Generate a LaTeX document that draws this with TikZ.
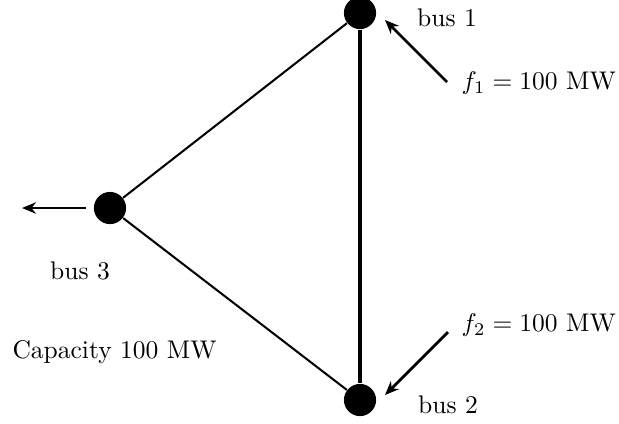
\documentclass[tikz,border=0pt]{standalone}
\usepackage{amsmath,amssymb}
\usetikzlibrary{arrows.meta}

\begin{document}
\begin{tikzpicture}[x=0.392pt, y=-0.392pt,
    bus/.style={circle, fill=black, draw=none, inner sep=0pt, minimum size=12.6pt},
    line/.style={draw=black, line width=0.8pt},
    tieline/.style={draw=black, line width=1.3pt},
    flow/.style={draw=black, line width=1.1pt, -{Stealth[length=5.5pt, width=4.5pt]}},
    lbl/.style={inner sep=0pt},
  ]
  % fixed frame, in pixels of the target
  \useasboundingbox (0, 0) rectangle (619, 423);

  % buses
  \node[bus] (bus1) at (360, 13) {};
  \node[bus] (bus2) at (360, 400) {};
  \node[bus] (bus3) at (110, 208) {};

  % transmission lines
  \draw[line] (bus3) -- (bus1);
  \draw[line] (bus3) -- (bus2);
  \draw[tieline] (bus1) -- (bus2);

  % injections and withdrawal
  \coordinate (in1tail) at (447, 82);
  \coordinate (in1head) at (385, 20);
  \coordinate (in2tail) at (448, 332);
  \coordinate (in2head) at (385, 395);
  \coordinate (out3) at (22, 208);
  \draw[flow] (in1tail) -- (in1head);
  \draw[flow] (in2tail) -- (in2head);
  \draw[flow, shorten <=3pt] (bus3) -- (out3);

  % labels
  \node[lbl] (lbus1) at (447, 18) {bus 1};
  \node[lbl] (lbus2) at (448, 405) {bus 2};
  \node[lbl] (lbus3) at (80, 271) {bus 3};
  \node[lbl, anchor=west] (lf1) at (461, 83) {$f_1 = 100$ MW};
  \node[lbl, anchor=west] (lf2) at (461, 325) {$f_2 = 100$ MW};
  \node[lbl, anchor=west] (lcap) at (12, 352) {Capacity 100 MW};
\end{tikzpicture}
\end{document}
